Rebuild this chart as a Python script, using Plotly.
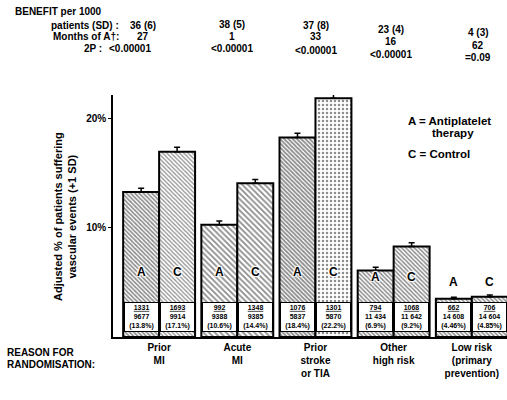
import plotly.graph_objects as go

# ---- data -------------------------------------------------------------
categories = ["Prior<br>MI", "Acute<br>MI", "Prior<br>stroke<br>or TIA",
              "Other<br>high risk", "Low risk<br>(primary<br>prevention)"]

# adjusted % of patients suffering vascular events (+1 SD)
antiplatelet_pct = [13.3, 10.3, 18.3, 6.1, 3.5]
antiplatelet_sd = [0.35, 0.35, 0.40, 0.30, 0.15]
control_pct = [17.0, 14.1, 21.9, 8.3, 3.7]
control_sd = [0.40, 0.35, 0.45, 0.35, 0.15]

# events / patients (crude rate) printed in each bar
antiplatelet_events = ["1331", "992", "1076", "794", "662"]
antiplatelet_patients = ["9677", "9388", "5837", "11 434", "14 608"]
antiplatelet_rate = ["(13.8%)", "(10.6%)", "(18.4%)", "(6.9%)", "(4.46%)"]
control_events = ["1693", "1348", "1301", "1068", "706"]
control_patients = ["9914", "9385", "5870", "11 642", "14 604"]
control_rate = ["(17.1%)", "(14.4%)", "(22.2%)", "(9.2%)", "(4.85%)"]

# header rows
benefit = ["36 (6)", "38 (5)", "37 (8)", "23 (4)", "4 (3)"]
months = ["27", "1", "33", "16", "62"]
two_p = ["<0.00001", "<0.00001", "<0.00001", "<0.00001", "=0.09"]

y_tick_vals = [10, 20]
y_tick_text = ["10%", "20%"]

# ---- geometry helpers (page pixels -> paper coords) -------------------
W, H = 507, 400
ML, MR, MT, MB = 113, 0, 95, 63
PW, PH = W - ML - MR, H - MT - MB


def px(x):
    return (x - ML) / PW


def py(y):
    return (H - MB - y) / PH


FONT = "Liberation Sans, Arial, Helvetica, sans-serif"
BAR_SHIFT = 18
INK = "#1a1a1a"

fig = go.Figure()

fig.add_trace(go.Bar(
    x=categories, y=antiplatelet_pct, name="A",
    marker=dict(color="white", line=dict(color="black", width=2),
                pattern=dict(shape=["\\", "\\", "\\", "\\", "\\"],
                             fgcolor=INK, bgcolor="white",
                             size=[3, 4, 3, 3, 3],
                             solidity=[0.55, 0.45, 0.6, 0.5, 0.5])),
    error_y=dict(type="data", array=antiplatelet_sd,
                 arrayminus=[0] * 5, symmetric=False,
                 color="black", thickness=1.5, width=3),
    cliponaxis=False, showlegend=False,
))
fig.add_trace(go.Bar(
    x=categories, y=control_pct, name="C",
    marker=dict(color="white", line=dict(color="black", width=2),
                pattern=dict(shape=["\\", "\\", ".", "\\", "\\"],
                             fgcolor=INK, bgcolor="white",
                             size=[3, 4, 4, 3, 3],
                             solidity=[0.4, 0.45, 0.3, 0.5, 0.5])),
    error_y=dict(type="data", array=control_sd,
                 arrayminus=[0] * 5, symmetric=False,
                 color="black", thickness=1.5, width=3),
    cliponaxis=False, showlegend=False,
))

ann = []

# white count boxes at the foot of each bar, plus the A / C letters
letter_y = [5.95, 5.95, 5.95, 5.5, 5.05]
for i in range(len(categories)):
    for shift, ev, pt, rt, letter in (
        (-BAR_SHIFT, antiplatelet_events[i], antiplatelet_patients[i],
         antiplatelet_rate[i], "A"),
        (BAR_SHIFT, control_events[i], control_patients[i],
         control_rate[i], "C"),
    ):
        ann.append(dict(
            x=i, y=0.5, xref="x", yref="y", xshift=shift,
            xanchor="center", yanchor="bottom",
            text=f"<u>{ev}</u><br>{pt}<br>{rt}",
            showarrow=False, align="center",
            font=dict(family=FONT, size=7, color="black", weight="bold"),
            bgcolor="white", bordercolor="black", borderwidth=1,
            borderpad=0, width=33, height=28,
        ))
        ann.append(dict(
            x=i, y=letter_y[i], xref="x", yref="y", xshift=shift,
            text=letter, showarrow=False,
            font=dict(family=FONT, size=12, color="black", weight="bold",
                      shadow="1px 1px 1px white, -1px -1px 1px white, "
                             "1px -1px 1px white, -1px 1px 1px white"),
        ))

# header block
hfont = dict(family=FONT, size=10, color="black", weight="bold")


def text_at(x, y, s, anchor="center", size=10):
    f = dict(hfont)
    f["size"] = size
    ann.append(dict(x=px(x), y=py(y), xref="paper", yref="paper",
                    xanchor=anchor, yanchor="middle", text=s,
                    showarrow=False, font=f))


text_at(13, 12, "BENEFIT per 1000", "left")
text_at(121, 25, "patients (SD) :", "right")
text_at(121, 37, "Months of A\u2020:", "right")
text_at(104, 49, "2P :", "right")

col_x = [143, 232, 316, 391, 478]
row_y = [[25, 37, 49], [24, 36, 49], [25, 37, 50], [29, 42, 54], [33, 46, 58]]
for i in range(5):
    text_at(col_x[i], row_y[i][0], benefit[i])
    text_at(col_x[i], row_y[i][1], months[i])
    text_at(col_x[i] - (13 if i == 0 else 0), row_y[i][2], two_p[i])

# key
text_at(406, 121, "A = Antiplatelet", "left", 11.5)
text_at(430, 133, "therapy", "left", 11.5)
text_at(406, 154, "C = Control", "left", 11.5)

# bottom-left caption
text_at(5, 352, "REASON FOR", "left")
text_at(5, 364, "RANDOMISATION:", "left")

# y-axis title
ann.append(dict(x=px(50), y=py(217), xref="paper", yref="paper",
                text="Adjusted % of patients suffering<br>vascular events (+1 SD)",
                textangle=-90, showarrow=False, align="center",
                font=dict(family=FONT, size=11, color="black", weight="bold")))

fig.update_layout(
    width=W, height=H,
    margin=dict(l=ML, r=MR, t=MT, b=MB),
    paper_bgcolor="white", plot_bgcolor="white",
    barmode="group", bargap=0.08, bargroupgap=0,
    annotations=ann,
    xaxis=dict(type="category", range=[-0.59, 4.45],
               showline=True, linecolor="black", linewidth=1.5,
               ticks="", showgrid=False, zeroline=False,
               tickfont=dict(family=FONT, size=10, color="black", weight="bold")),
    yaxis=dict(range=[0, 22.2], tickvals=y_tick_vals, ticktext=y_tick_text,
               showline=True, linecolor="black", linewidth=1.5,
               ticks="outside", ticklen=3, tickcolor="black",
               showgrid=False, zeroline=False,
               tickfont=dict(family=FONT, size=10, color="black", weight="bold")),
)

fig.write_html("out.html")
